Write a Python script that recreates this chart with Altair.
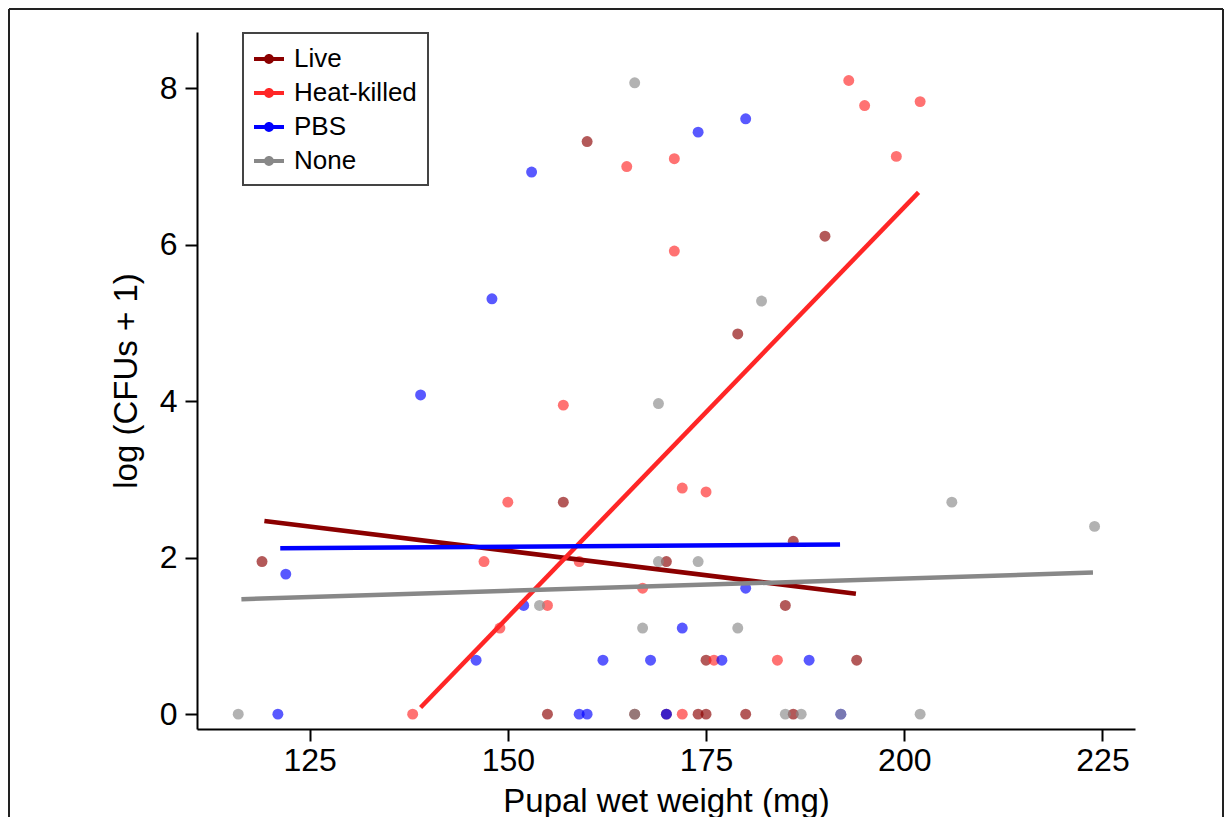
import altair as alt
import pandas as pd

groups = ["Live", "Heat-killed", "PBS", "None"]
colors = ["#8B0000", "#FF2626", "#0000FF", "#888888"]

live_x = [119, 160, 190, 179, 157, 186, 170, 185, 175, 194, 155, 166, 170, 174, 175, 180, 186]
live_y = [1.95, 7.32, 6.11, 4.86, 2.71, 2.21, 1.95, 1.39, 0.69, 0.69, 0, 0, 0, 0, 0, 0, 0]

hk_x = [165, 171, 171, 193, 195, 202, 199, 157, 172, 175, 150, 147, 159, 167, 155, 149, 176, 184, 138, 172]
hk_y = [7.00, 7.10, 5.92, 8.10, 7.78, 7.83, 7.13, 3.95, 2.89, 2.84, 2.71, 1.95, 1.95, 1.61, 1.39, 1.10, 0.69, 0.69, 0, 0]

pbs_x = [180, 174, 153, 148, 139, 122, 180, 152, 172, 146, 162, 168, 177, 188, 121, 159, 160, 170, 192]
pbs_y = [7.61, 7.44, 6.93, 5.31, 4.08, 1.79, 1.61, 1.39, 1.10, 0.69, 0.69, 0.69, 0.69, 0.69, 0, 0, 0, 0, 0]

none_x = [166, 182, 169, 206, 224, 169, 174, 154, 167, 179, 116, 166, 185, 187, 192, 202]
none_y = [8.07, 5.28, 3.97, 2.71, 2.40, 1.95, 1.95, 1.39, 1.10, 1.10, 0, 0, 0, 0, 0, 0]

# fitted lines: start and end per group
fit_x0 = [119.3, 139.0, 121.3, 116.4]
fit_x1 = [193.9, 201.8, 191.9, 223.8]
fit_y0 = [2.47, 0.085, 2.12, 1.47]
fit_y1 = [1.54, 6.67, 2.17, 1.81]

x_ticks = [125, 150, 175, 200, 225]
y_ticks = [0, 2, 4, 6, 8]

rows = []
for g, xs, ys in [("Live", live_x, live_y), ("Heat-killed", hk_x, hk_y),
                  ("PBS", pbs_x, pbs_y), ("None", none_x, none_y)]:
    for a, b in zip(xs, ys):
        rows.append({"group": g, "w": a, "cfu": b})
pts = pd.DataFrame(rows)

lrows = []
for i, g in enumerate(groups):
    lrows.append({"group": g, "w": fit_x0[i], "cfu": fit_y0[i], "k": 0})
    lrows.append({"group": g, "w": fit_x1[i], "cfu": fit_y1[i], "k": 1})
lines = pd.DataFrame(lrows)

FONT = "Liberation Sans"
xscale = alt.Scale(domain=[110.8, 229.1], nice=False, zero=False)
yscale = alt.Scale(domain=[-0.19, 8.72], nice=False, zero=False)
cscale = alt.Scale(domain=groups, range=colors)

legend_path = ("M-1,-0.13L1,-0.13L1,0.13L-1,0.13Z "
               "M0,-0.33A0.33,0.33 0 1,1 0,0.33A0.33,0.33 0 1,1 0,-0.33Z")

points = alt.Chart(pts).mark_circle(size=120, opacity=0.65).encode(
    x=alt.X("w:Q", scale=xscale,
            axis=alt.Axis(values=x_ticks, format="d", title="Pupal wet weight (mg)")),
    y=alt.Y("cfu:Q", scale=yscale,
            axis=alt.Axis(values=y_ticks, format="d", title="log (CFUs + 1)")),
    color=alt.Color("group:N", scale=cscale,
                    legend=alt.Legend(
                        title=None, orient="none", legendX=46, legendY=1,
                        symbolType=legend_path, symbolSize=900,
                        symbolStrokeWidth=0, symbolOpacity=1,
                        labelFont=FONT, labelFontSize=26, labelColor="black",
                        labelOffset=10, rowPadding=6,
                        padding=11, strokeColor="#444444", fillColor="white",
                    )),
)

fits = alt.Chart(lines).mark_line(strokeWidth=4.5).encode(
    x=alt.X("w:Q", scale=xscale),
    y=alt.Y("cfu:Q", scale=yscale),
    color=alt.Color("group:N", scale=cscale, legend=None),
    detail="group:N",
    order="k:Q",
)

frame_df = pd.DataFrame({"side": ["left", "top", "right"]})
frame_left = alt.Chart(frame_df).transform_filter("datum.side == 'left'").mark_rule(
    color="#222222", strokeWidth=2).encode(
    x=alt.value(-188), y=alt.value(-23), y2=alt.value(830))
frame_top = alt.Chart(frame_df).transform_filter("datum.side == 'top'").mark_rule(
    color="#222222", strokeWidth=2).encode(
    x=alt.value(-188), x2=alt.value(1026), y=alt.value(-23))
frame_right = alt.Chart(frame_df).transform_filter("datum.side == 'right'").mark_rule(
    color="#222222", strokeWidth=2).encode(
    x=alt.value(1026), y=alt.value(-23), y2=alt.value(830))

chart = alt.layer(points, fits, frame_left, frame_top, frame_right).properties(
    width=938, height=697,
    autosize=alt.AutoSizeParams(type="none"),
    padding={"left": 189, "top": 24, "right": 89, "bottom": 88},
).configure_view(stroke=None).configure_axis(
    grid=False, domainColor="black", domainWidth=2, tickColor="black",
    tickWidth=2, tickSize=12, labelFont=FONT, labelFontSize=32,
    labelColor="black", titleFont=FONT, titleFontSize=33,
    titleFontWeight="normal", titleColor="black",
).configure_axisX(labelPadding=4, titlePadding=9).configure_axisY(
    labelPadding=8, titlePadding=16).configure_legend(strokeWidth=2)

chart.save("out.html", embed_options={"renderer": "svg", "actions": False})
